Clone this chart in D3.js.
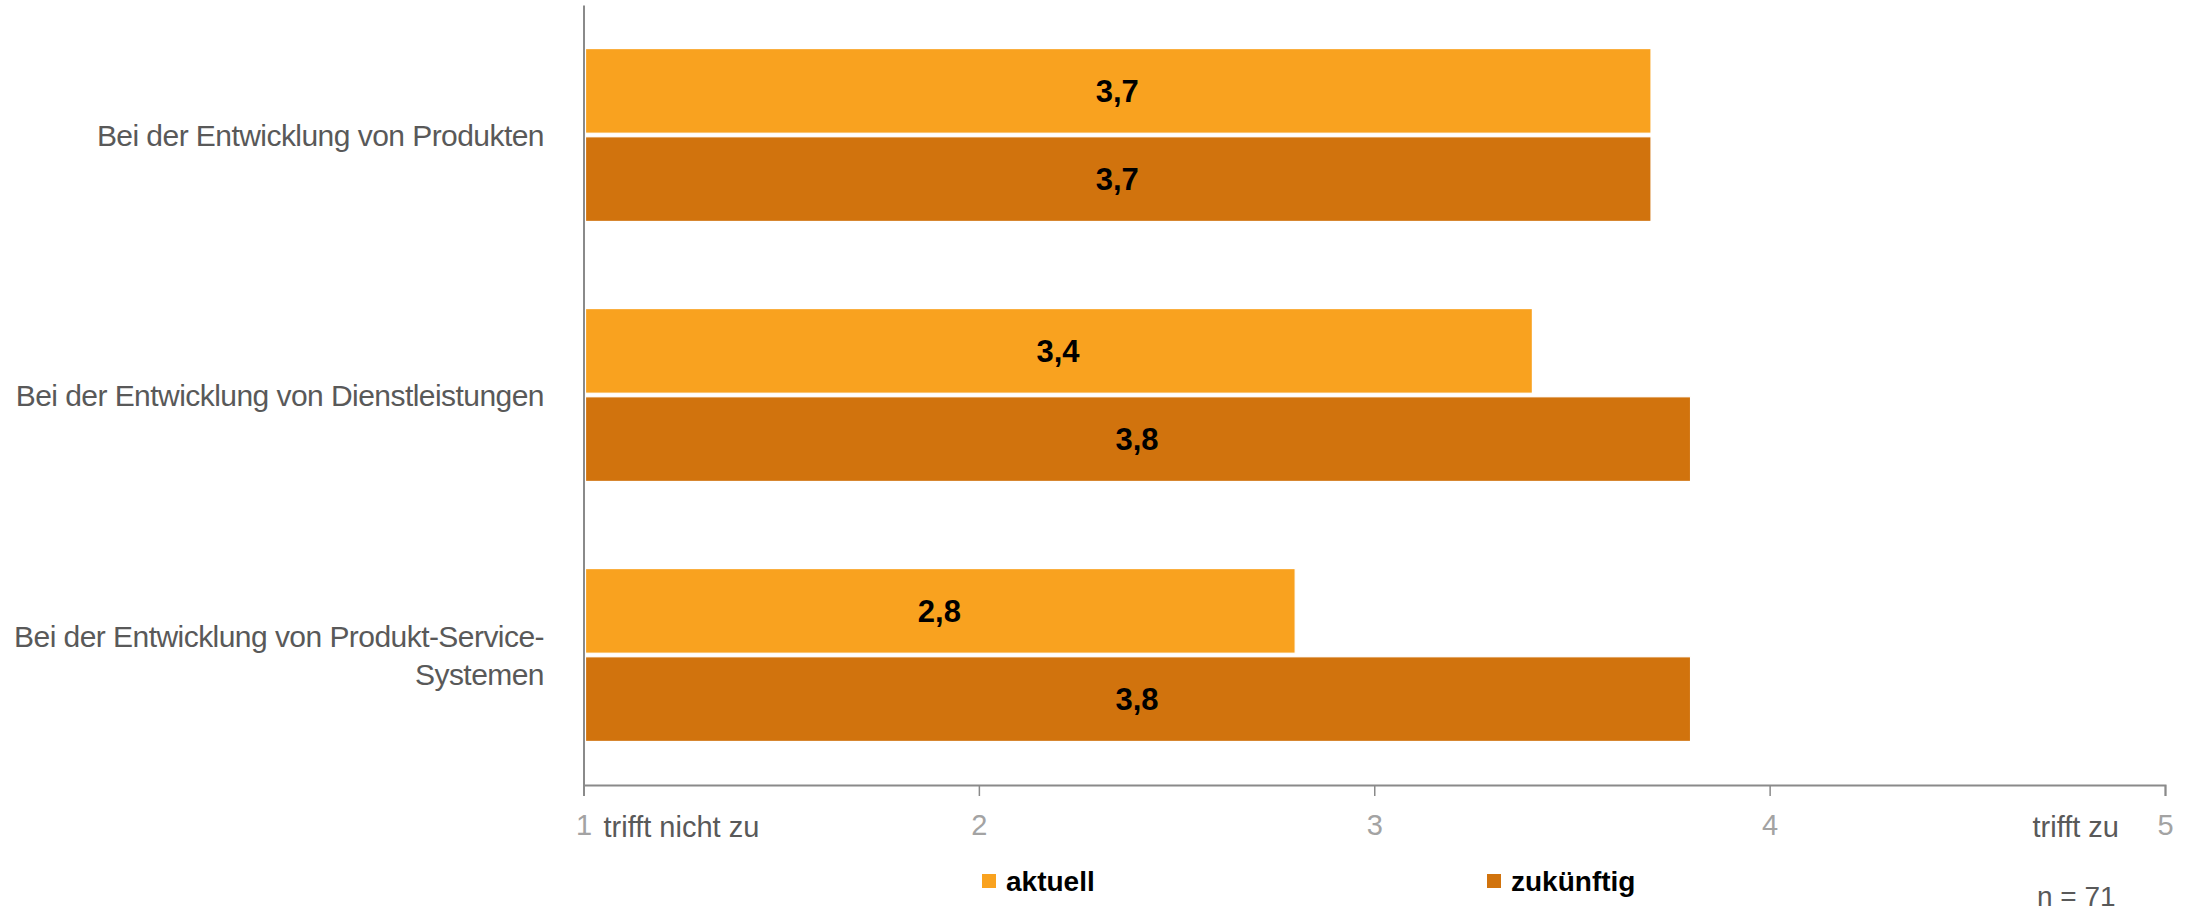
<!DOCTYPE html>
<html>
<head>
<meta charset="utf-8">
<script src="https://cdn.jsdelivr.net/npm/d3@7"></script>
<style>
  html, body { margin: 0; padding: 0; background: #fff; }
  svg { display: block; }
  text { font-family: "Liberation Sans", Arial, sans-serif; }
</style>
</head>
<body>
<script>
// ---- data ----
const categories = ["Produkte", "Dienstleistungen", "PSS"];
const categoryLabels = [
  ["Bei der Entwicklung von Produkten"],
  ["Bei der Entwicklung von Dienstleistungen"],
  ["Bei der Entwicklung von Produkt-Service-", "Systemen"]
];
const series = ["aktuell", "zukünftig"];
const aktuell = [3.7, 3.4, 2.8];
const zukuenftig = [3.7, 3.8, 3.8];
const tickValues = [1, 2, 3, 4, 5];
const scaleEndLabels = ["trifft nicht zu", "trifft zu"];
const sampleNote = "n = 71";

const colors = { "aktuell": "#F9A21F", "zukünftig": "#D1730D" };
const W = 2198, H = 912;

const svg = d3.select("body").append("svg").attr("width", W).attr("height", H);

const x = d3.scaleLinear().domain([1, 5]).range([583.5, 2165]);
const y = d3.scaleBand().domain(categories).range([5, 785])
  .paddingInner(0.335).paddingOuter(0.1675);
const ySub = d3.scaleBand().domain(series).range([0, y.bandwidth()]).paddingInner(0.04);

const rows = [];
categories.forEach((c, i) => {
  rows.push({ cat: c, s: "aktuell", v: aktuell[i] });
  rows.push({ cat: c, s: "zukünftig", v: zukuenftig[i] });
});

const fmt = v => d3.format(".1f")(v).replace(".", ",");

// bars
svg.append("g").selectAll("rect").data(rows).join("rect")
  .attr("x", x(1) + 2)
  .attr("y", d => y(d.cat) + ySub(d.s))
  .attr("width", d => x(d.v) - x(1) - 2)
  .attr("height", ySub.bandwidth())
  .attr("fill", d => colors[d.s])
  .attr("stroke", "#fff")
  .attr("stroke-width", 1.2);

// value labels
svg.append("g").selectAll("text").data(rows).join("text")
  .attr("x", d => (x(1) + x(d.v)) / 2)
  .attr("y", d => y(d.cat) + ySub(d.s) + ySub.bandwidth() / 2)
  .attr("dy", "0.36em")
  .attr("text-anchor", "middle")
  .attr("font-size", 31)
  .attr("font-weight", "bold")
  .attr("fill", "#000")
  .text(d => fmt(d.v));

// x axis
const xAxis = d3.axisBottom(x).tickValues(tickValues).tickSize(11).tickPadding(18)
  .tickFormat(d => d);
const gx = svg.append("g").attr("transform", `translate(0,785)`).call(xAxis);
gx.select(".domain").attr("stroke", "#8a8a8a").attr("stroke-width", 2);
gx.selectAll(".tick line").attr("stroke", "#8a8a8a").attr("stroke-width", 1.5);
gx.selectAll(".tick text").attr("font-size", 29).attr("fill", "#a3a3a3")
  .attr("font-family", "'Liberation Sans', Arial, sans-serif");

// y axis line
const yAxis = d3.axisLeft(y).tickSize(0).tickFormat("");
const gy = svg.append("g").attr("transform", `translate(${x(1)},0)`).call(yAxis);
gy.select(".domain").attr("stroke", "#8a8a8a").attr("stroke-width", 2);

// category labels
const lineH = 38;
categories.forEach((c, i) => {
  const lines = categoryLabels[i];
  const cy = y(c) + y.bandwidth() / 2;
  const t = svg.append("text")
    .attr("text-anchor", "end")
    .attr("font-size", 30)
    .attr("letter-spacing", -0.55)
    .attr("fill", "#595959");
  lines.forEach((ln, j) => {
    t.append("tspan")
      .attr("x", 544)
      .attr("y", cy + (j - (lines.length - 1) / 2) * lineH)
      .attr("dy", "0.35em")
      .text(ln);
  });
});

// scale end labels
svg.append("text").attr("x", x(1) + 20).attr("y", 837)
  .attr("font-size", 29).attr("fill", "#595959").text(scaleEndLabels[0]);
svg.append("text").attr("x", x(5) - 46).attr("y", 837).attr("text-anchor", "end")
  .attr("font-size", 29).attr("fill", "#595959").text(scaleEndLabels[1]);

// legend
const legendX = [982, 1487];
const lg = svg.append("g").selectAll("g").data(series).join("g")
  .attr("transform", (d, i) => `translate(${legendX[i]},874)`);
lg.append("rect").attr("width", 14).attr("height", 14).attr("fill", d => colors[d]);
lg.append("text").attr("x", 24).attr("y", 17)
  .attr("font-size", 28).attr("font-weight", "bold").attr("fill", "#000").text(d => d);

// n note
svg.append("text").attr("x", 2037).attr("y", 906)
  .attr("font-size", 28).attr("fill", "#595959").text(sampleNote);
</script>
</body>
</html>
